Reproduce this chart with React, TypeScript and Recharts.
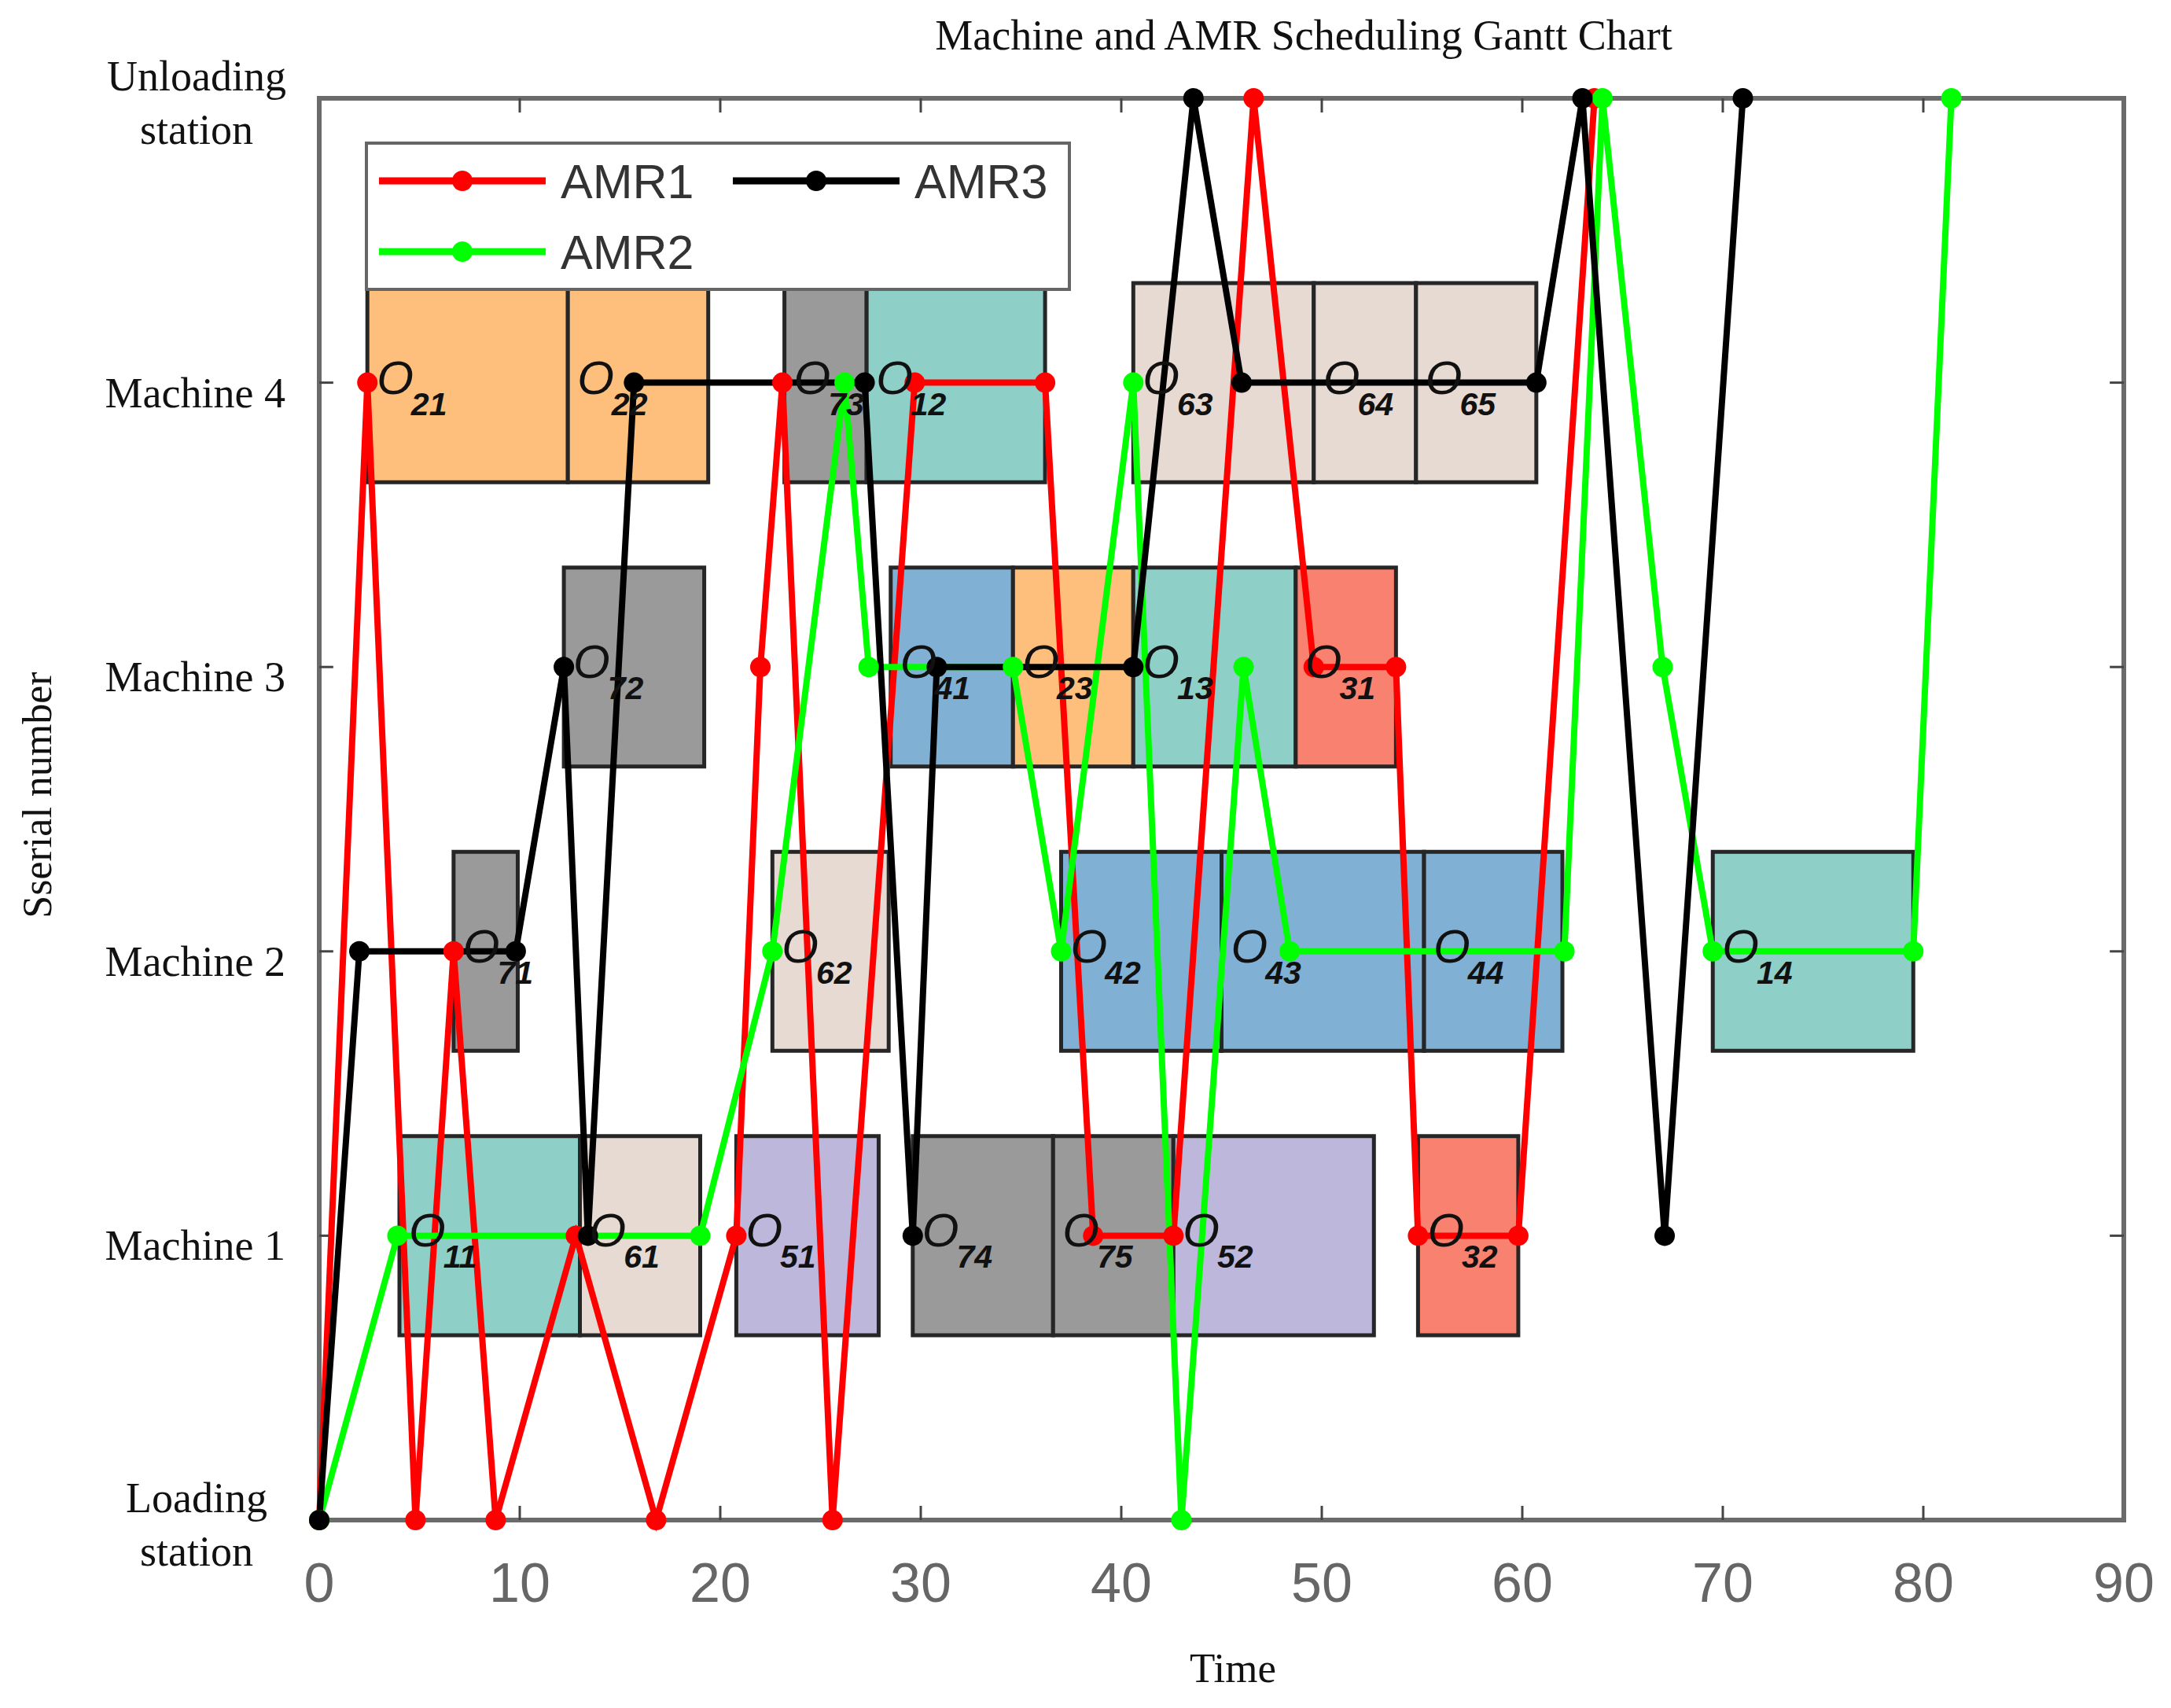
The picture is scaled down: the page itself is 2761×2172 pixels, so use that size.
import React from "react";
import {
  ComposedChart,
  XAxis,
  YAxis,
  Line,
  Scatter,
  ReferenceArea,
  ReferenceLine,
} from "recharts";

// Axis ticks and labels
const timeTicks = [0, 10, 20, 30, 40, 50, 60, 70, 80, 90];
const levelTicks = [0, 1, 2, 3, 4, 5];
const levelNames = [
  ["Loading", "station"],
  ["Machine 1"],
  ["Machine 2"],
  ["Machine 3"],
  ["Machine 4"],
  ["Unloading", "station"],
];

// Operations on each machine (op = job + step, start/end in time units)
const machine1Ops = [
  { op: "11", job: 1, start: 4.0, end: 13.0 },
  { op: "61", job: 6, start: 13.0, end: 19.0 },
  { op: "51", job: 5, start: 20.8, end: 27.9 },
  { op: "74", job: 7, start: 29.6, end: 36.6 },
  { op: "75", job: 7, start: 36.6, end: 42.6 },
  { op: "52", job: 5, start: 42.6, end: 52.6 },
  { op: "32", job: 3, start: 54.8, end: 59.8 },
];
const machine2Ops = [
  { op: "71", job: 7, start: 6.7, end: 9.9 },
  { op: "62", job: 6, start: 22.6, end: 28.4 },
  { op: "42", job: 4, start: 37.0, end: 45.0 },
  { op: "43", job: 4, start: 45.0, end: 55.1 },
  { op: "44", job: 4, start: 55.1, end: 62.0 },
  { op: "14", job: 1, start: 69.5, end: 79.5 },
];
const machine3Ops = [
  { op: "72", job: 7, start: 12.2, end: 19.2 },
  { op: "41", job: 4, start: 28.5, end: 34.6 },
  { op: "23", job: 2, start: 34.6, end: 40.6 },
  { op: "13", job: 1, start: 40.6, end: 48.7 },
  { op: "31", job: 3, start: 48.7, end: 53.7 },
];
const machine4Ops = [
  { op: "21", job: 2, start: 2.4, end: 12.4 },
  { op: "22", job: 2, start: 12.4, end: 19.4 },
  { op: "73", job: 7, start: 23.2, end: 27.3 },
  { op: "12", job: 1, start: 27.3, end: 36.2 },
  { op: "63", job: 6, start: 40.6, end: 49.6 },
  { op: "64", job: 6, start: 49.6, end: 54.7 },
  { op: "65", job: 6, start: 54.7, end: 60.7 },
];

// AMR routes: time of each stop and the station level it visits
const amr1Times = [0, 2.4, 4.8, 6.7, 8.8, 12.8, 16.8, 20.8, 22.0, 23.1, 25.6, 29.7, 36.2, 38.6, 42.6, 46.6, 49.6, 53.7, 54.8, 59.8, 63.6];
const amr1Stops = [0, 4, 0, 2, 0, 1, 0, 1, 3, 4, 0, 4, 4, 1, 1, 5, 3, 3, 1, 1, 5];
const amr2Times = [0, 3.9, 19.0, 22.6, 26.2, 27.4, 34.6, 37.0, 40.6, 43.0, 46.1, 48.4, 62.1, 64.0, 67.0, 69.5, 79.5, 81.4];
const amr2Stops = [0, 1, 1, 2, 4, 3, 3, 2, 4, 0, 3, 2, 2, 5, 3, 2, 2, 5];
const amr3Times = [0, 2.0, 9.8, 12.2, 13.4, 15.7, 27.2, 29.6, 30.8, 40.6, 43.6, 46.0, 60.7, 63.0, 67.1, 71.0];
const amr3Stops = [0, 2, 2, 3, 1, 4, 4, 1, 3, 3, 5, 4, 4, 5, 1, 5];

// styles
const jobColors: Record<number, string> = {
  1: "#8ecfc8",
  2: "#fdbf7b",
  3: "#f9816f",
  4: "#80b0d3",
  5: "#bdb8db",
  6: "#e7dad2",
  7: "#9a9a9a",
};
const AMR1 = "#ff0000";
const AMR2 = "#00ff00";
const AMR3 = "#000000";
const SERIF = "'Liberation Serif', 'Times New Roman', serif";
const SANS = "'Liberation Sans', Arial, Helvetica, sans-serif";
const W = 2745;
const H = 2156;
const HALF = 0.35;

const toRoute = (times: number[], stops: number[]) =>
  times.map((t, i) => ({ t, y: stops[i] }));

const route1 = toRoute(amr1Times, amr1Stops);
const route2 = toRoute(amr2Times, amr2Stops);
const route3 = toRoute(amr3Times, amr3Stops);

const machines = [machine1Ops, machine2Ops, machine3Ops, machine4Ops];
const boxes = machines.flatMap((ops, i) => ops.map((o) => ({ ...o, level: i + 1 })));
const labelPoints = boxes.map((b) => ({ t: b.start, y: b.level, op: b.op }));

const XTick = (props: any) => {
  const { x, y, payload } = props;
  return (
    <text x={x} y={y + 104} textAnchor="middle" fontFamily={SANS} fontSize={70} fill="#666">
      {payload.value}
    </text>
  );
};

const YTick = (props: any) => {
  const { x, y, payload } = props;
  const lines = levelNames[payload.value] || [];
  if (lines.length === 1) {
    return (
      <text x={x - 43} y={y + 31} textAnchor="end" fontFamily={SERIF} fontSize={54} fill="#111">
        {lines[0]}
      </text>
    );
  }
  return (
    <text textAnchor="middle" fontFamily={SERIF} fontSize={54} fill="#111">
      <tspan x={x - 156} y={y - 10}>{lines[0]}</tspan>
      <tspan x={x - 156} y={y + 58}>{lines[1]}</tspan>
    </text>
  );
};

const OpLabel = (props: any) => {
  const { cx, cy, payload } = props;
  if (cx == null || cy == null) return null;
  return (
    <text x={cx + 12} y={cy + 14} fontFamily={SANS} fontStyle="italic" fill="#111">
      <tspan fontSize={60}>O</tspan>
      <tspan fontSize={41} fontWeight="bold" dx={-3} dy={27}>
        {payload.op}
      </tspan>
    </text>
  );
};

const legendRows = [
  [
    { name: "AMR1", color: AMR1 },
    { name: "AMR3", color: AMR3 },
  ],
  [{ name: "AMR2", color: AMR2 }],
];

function Overlay() {
  return (
    <svg
      width={W}
      height={H}
      style={{ position: "absolute", left: 0, top: 0, pointerEvents: "none" }}
    >
      <text x={1650} y={55} textAnchor="middle" fontFamily={SERIF} fontSize={54} fill="#111">
        Machine and AMR Scheduling Gantt Chart
      </text>
      <text x={1560} y={2131} textAnchor="middle" fontFamily={SERIF} fontSize={53} fill="#111">
        Time
      </text>
      <text
        x={39}
        y={1003}
        textAnchor="middle"
        dominantBaseline="central"
        fontFamily={SERIF}
        fontSize={52}
        fill="#111"
        transform="rotate(-90 39 1003)"
      >
        Sserial number
      </text>
      {/* legend */}
      <rect x={458} y={174} width={894} height={186} fill="#fff" stroke="#666" strokeWidth={4} />
      {legendRows.map((row, r) =>
        row.map((item, c) => {
          const x0 = c === 0 ? 474 : 924;
          const cy = r === 0 ? 222 : 312;
          return (
            <g key={item.name}>
              <line x1={x0} x2={x0 + 212} y1={cy} y2={cy} stroke={item.color} strokeWidth={9} />
              <circle cx={x0 + 106} cy={cy} r={13} fill={item.color} />
              <text x={x0 + 231} y={cy + 22} fontFamily={SANS} fontSize={61} fill="#333">
                {item.name}
              </text>
            </g>
          );
        })
      )}
    </svg>
  );
}

export default function App() {
  const innerX = timeTicks.slice(1, -1);
  const innerY = levelTicks.slice(1, -1);
  return (
    <div style={{ position: "relative", width: W, height: H }}>
      <ComposedChart width={W} height={H} margin={{ top: 117, right: 52, bottom: 0, left: 0 }}>
        <XAxis
          type="number"
          dataKey="t"
          domain={[0, 90]}
          ticks={timeTicks}
          interval={0}
          height={231}
          axisLine={false}
          tickLine={false}
          tickSize={0}
          tickMargin={0}
          tick={XTick}
        />
        <YAxis
          type="number"
          dataKey="y"
          domain={[0, 5]}
          ticks={levelTicks}
          interval={0}
          width={398}
          axisLine={false}
          tickLine={false}
          tickSize={0}
          tickMargin={0}
          tick={YTick}
        />

        {/* axes box */}
        <ReferenceArea
          x1={0}
          x2={90}
          y1={0}
          y2={5}
          fill="none"
          stroke="#6b6b6b"
          strokeWidth={6}
          ifOverflow="visible"
          zIndex={50}
        />
        {innerX.map((t) => (
          <ReferenceLine key={"xb" + t} segment={[{ x: t, y: 0 }, { x: t, y: 0.05 }]} stroke="#444" strokeWidth={3} zIndex={50} />
        ))}
        {innerX.map((t) => (
          <ReferenceLine key={"xt" + t} segment={[{ x: t, y: 5 }, { x: t, y: 4.95 }]} stroke="#444" strokeWidth={3} zIndex={50} />
        ))}
        {innerY.map((l) => (
          <ReferenceLine key={"yl" + l} segment={[{ x: 0, y: l }, { x: 0.7, y: l }]} stroke="#444" strokeWidth={3} zIndex={50} />
        ))}
        {innerY.map((l) => (
          <ReferenceLine key={"yr" + l} segment={[{ x: 90, y: l }, { x: 89.3, y: l }]} stroke="#444" strokeWidth={3} zIndex={50} />
        ))}

        {/* gantt boxes */}
        {boxes.map((b) => (
          <ReferenceArea
            key={"box" + b.op}
            x1={b.start}
            x2={b.end}
            y1={b.level - HALF}
            y2={b.level + HALF}
            fill={jobColors[b.job]}
            fillOpacity={1}
            stroke="#262626"
            strokeWidth={5}
            zIndex={100}
          />
        ))}

        <Line
          data={route1}
          dataKey="y"
          type="linear"
          stroke={AMR1}
          strokeWidth={8}
          dot={{ r: 13, fill: AMR1, stroke: "none" }}
          activeDot={false}
          isAnimationActive={false}
          zIndex={400}
        />
        <Line
          data={route2}
          dataKey="y"
          type="linear"
          stroke={AMR2}
          strokeWidth={8}
          dot={{ r: 13, fill: AMR2, stroke: "none" }}
          activeDot={false}
          isAnimationActive={false}
          zIndex={400}
        />
        <Line
          data={route3}
          dataKey="y"
          type="linear"
          stroke={AMR3}
          strokeWidth={8}
          dot={{ r: 13, fill: AMR3, stroke: "none" }}
          activeDot={false}
          isAnimationActive={false}
          zIndex={400}
        />

        <Scatter data={labelPoints} dataKey="y" shape={OpLabel} isAnimationActive={false} zIndex={600} />
      </ComposedChart>
      <Overlay />
    </div>
  );
}
